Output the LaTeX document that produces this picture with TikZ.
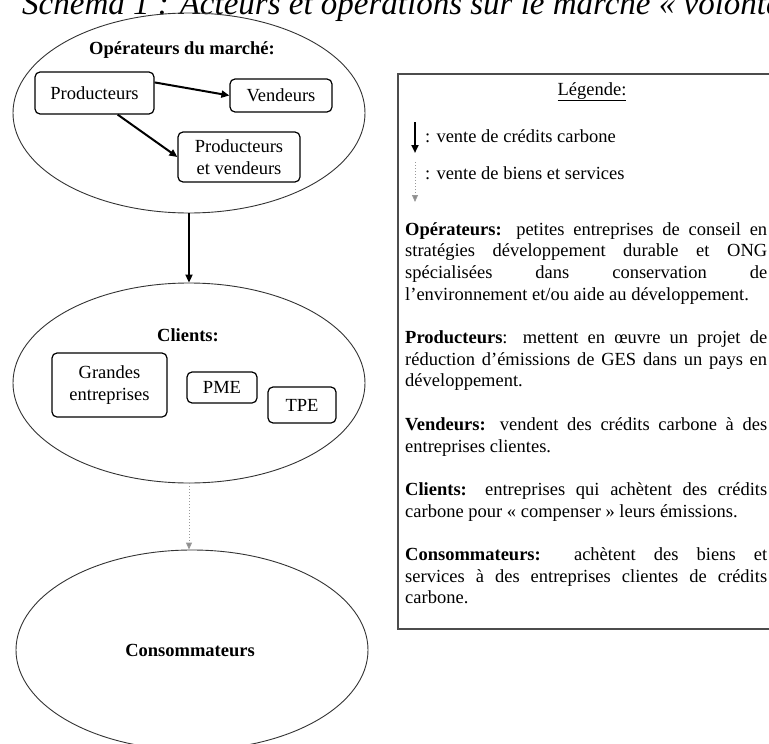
\documentclass[tikz,border=0pt]{standalone}
\usepackage{fontspec}
\setmainfont{Liberation Serif}
\usetikzlibrary{shapes.geometric,arrows.meta}
\newcommand\jline[1]{\makebox[\linewidth][s]{#1}\\}
\begin{document}
\begin{tikzpicture}[x=1pt,y=-1pt,
  oval/.style={draw=black!80, line width=0.9pt, ellipse, minimum width=352pt, minimum height=200pt, inner sep=0pt},
  rbox/.style={draw=black, line width=1.2pt, rounded corners=5pt, inner sep=0pt, align=center, font=\fontsize{18.5}{22}\selectfont},
  lbl/.style={font=\fontsize{18.5}{22}\selectfont\bfseries, inner sep=0pt},
  txt/.style={font=\fontsize{18.5}{22}\selectfont, inner sep=0pt},
  para/.style={anchor=base west, inner sep=0pt},
  credit/.style={line width=2pt, -{Triangle[length=8pt,width=7pt]}},
  goods/.style={draw=black!40, line width=1pt, dotted, -{Triangle[length=7pt,width=6pt,fill=black!45]}},
]
\clip (0,0) rectangle (769,744);

% title (cut off at the top and right)
\node[anchor=base west, inner sep=0pt, font=\fontsize{33}{33}\selectfont\itshape] (title) at (22,14) {Schéma 1 : Acteurs et opérations sur le marché « volontaire »};

% ellipses
\node[oval] (ops) at (189,113) {};
\node[oval] (cli) at (189,383) {};
\node[oval] (con) at (192,650) {};
\node[lbl] (opsT) at (182,50) {Opérateurs du marché:};
\node[lbl] (cliT) at (188,335) {Clients:};
\node[lbl] (conT) at (190,650) {Consommateurs};

% boxes
\node[rbox, minimum width=119pt, minimum height=42pt] (prod) at (94.5,93) {Producteurs};
\node[rbox, minimum width=102pt, minimum height=33pt] (vend) at (281,95.5) {Vendeurs};
\node[rbox, minimum width=122pt, minimum height=50pt] (pv) at (239,157) {Producteurs\\et vendeurs};
\node[rbox, minimum width=115pt, minimum height=64pt] (ge) at (109.5,385) {Grandes\\entreprises};
\node[rbox, minimum width=70pt, minimum height=31pt] (pme) at (222,387.5) {PME};
\node[rbox, minimum width=68pt, minimum height=36pt] (tpe) at (302,405) {TPE};

% connectors
\draw[credit] (prod.10) -- (vend.west);
\draw[credit] (prod.-43) -- (pv.west);
\draw[credit] (ops.south) -- (cli.north);
\draw[goods] (cli.south) -- (cli.south |- con.north);

% legend
\node[draw=black!70, line width=1.5pt, minimum width=390pt, minimum height=555pt, anchor=north west, inner sep=0pt] (leg) at (397,73) {};
\node[txt, anchor=base] (legT) at (592,95) {\underline{Légende:}};
\coordinate (a1s) at (415,122);
\coordinate (a1e) at (415,153);
\draw[credit] (a1s) -- (a1e);
\node[txt, anchor=base west] (t1) at (425,142) {: vente de crédits carbone};
\coordinate (a2s) at (415,162);
\coordinate (a2e) at (415,202);
\draw[goods] (a2s) -- (a2e);
\node[txt, anchor=base west] (t2) at (425,179) {: vente de biens et services};

\node[para] (p1) at (405,235) {\parbox[t]{362pt}{\fontsize{18.5}{21.7}\selectfont
\jline{\textbf{Opérateurs:} petites entreprises de conseil en}
\jline{stratégies développement durable et ONG}
\jline{spécialisées dans conservation de}
l’environnement et/ou aide au développement.}};

\node[para] (p2) at (405,343.5) {\parbox[t]{362pt}{\fontsize{18.5}{21.7}\selectfont
\jline{\textbf{Producteurs}: mettent en œuvre un projet de}
\jline{réduction d’émissions de GES dans un pays en}
développement.}};

\node[para] (p3) at (405,430.3) {\parbox[t]{362pt}{\fontsize{18.5}{21.7}\selectfont
\jline{\textbf{Vendeurs:} vendent des crédits carbone à des}
entreprises clientes.}};

\node[para] (p4) at (405,495.4) {\parbox[t]{362pt}{\fontsize{18.5}{21.7}\selectfont
\jline{\textbf{Clients:} entreprises qui achètent des crédits}
carbone pour « compenser » leurs émissions.}};

\node[para] (p5) at (405,560.5) {\parbox[t]{362pt}{\fontsize{18.5}{21.7}\selectfont
\jline{\textbf{Consommateurs:} achètent des biens et}
\jline{services à des entreprises clientes de crédits}
carbone.}};
\end{tikzpicture}
\end{document}
